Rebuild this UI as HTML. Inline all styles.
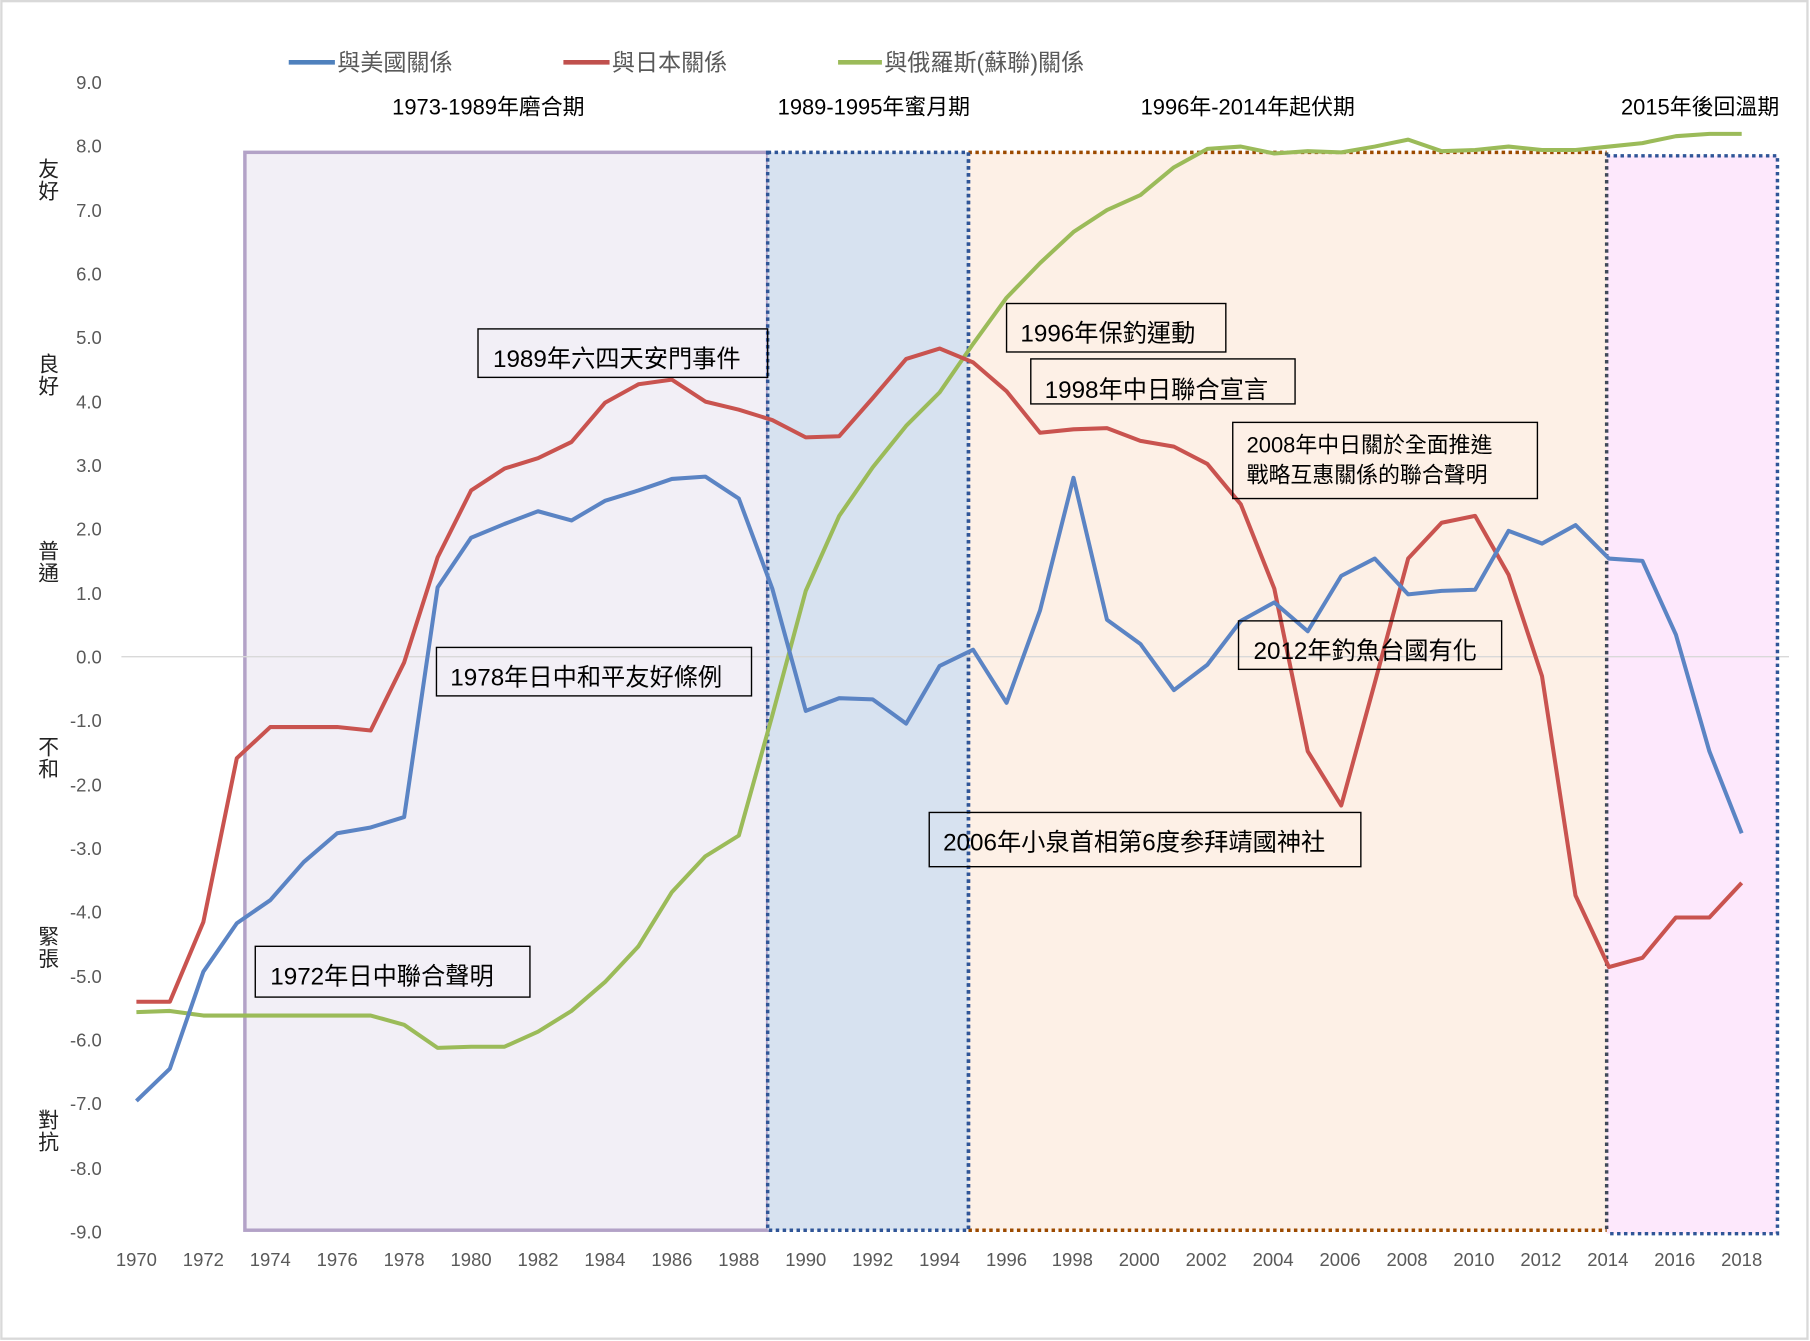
<!DOCTYPE html>
<html><head><meta charset="utf-8"><style>
html,body{margin:0;padding:0;background:#fff}
svg{display:block}
text{font-family:"Liberation Sans","Noto Sans CJK TC",sans-serif}
</style></head><body>
<svg width="1810" height="1341" viewBox="0 0 1568 1162" xmlns="http://www.w3.org/2000/svg">
<rect x="1" y="1" width="1565" height="1159" fill="#fff" stroke="#d9d9d9" stroke-width="2"/>
<!-- regions -->
<rect x="212" y="132" width="453" height="934" fill="#f2eff6" stroke="#b3a2c7" stroke-width="3"/>
<rect x="665" y="132" width="174" height="934" fill="#d7e2f0"/>
<rect x="839" y="132" width="553" height="934" fill="#fdf0e6"/>
<rect x="1392" y="135" width="148" height="934" fill="#fde8fc"/>
<line x1="105" y1="569" x2="1550" y2="569" stroke="#d9d9d9" stroke-width="1.2"/>
<g fill="none" stroke-width="3" stroke-dasharray="3,3">
<rect x="665" y="132" width="174" height="934" stroke="#2f5597"/>
<line x1="839" y1="132" x2="1392" y2="132" stroke="#9c4a00"/>
<line x1="839" y1="1066" x2="1392" y2="1066" stroke="#9c4a00"/>
<line x1="839" y1="132" x2="839" y2="1066" stroke="#2f5597"/>
<line x1="1392" y1="132" x2="1392" y2="1066" stroke="#404a5a"/>
<path d="M1392 135 H1540 V1069 H1392" stroke="#2f5597"/>
</g>
<!-- y labels -->
<g font-size="16" fill="#595959" text-anchor="end">
<text x="88" y="77">9.0</text><text x="88" y="132">8.0</text><text x="88" y="188">7.0</text>
<text x="88" y="243">6.0</text><text x="88" y="298">5.0</text><text x="88" y="354">4.0</text>
<text x="88" y="409">3.0</text><text x="88" y="464">2.0</text><text x="88" y="520">1.0</text>
<text x="88" y="575">0.0</text><text x="88" y="630">-1.0</text><text x="88" y="686">-2.0</text>
<text x="88" y="741">-3.0</text><text x="88" y="796">-4.0</text><text x="88" y="852">-5.0</text>
<text x="88" y="907">-6.0</text><text x="88" y="962">-7.0</text><text x="88" y="1018">-8.0</text>
<text x="88" y="1073">-9.0</text>
</g>
<g font-size="18" fill="#222" text-anchor="middle">
<text x="42" y="153">友</text><text x="42" y="172">好</text>
<text x="42" y="322">良</text><text x="42" y="341">好</text>
<text x="42" y="484">普</text><text x="42" y="503">通</text>
<text x="42" y="654">不</text><text x="42" y="673">和</text>
<text x="42" y="818">緊</text><text x="42" y="837">張</text>
<text x="42" y="977">對</text><text x="42" y="996">抗</text>
</g>
<!-- x labels -->
<g font-size="16" fill="#595959" text-anchor="middle">
<text x="118" y="1097">1970</text><text x="176" y="1097">1972</text><text x="234" y="1097">1974</text>
<text x="292" y="1097">1976</text><text x="350" y="1097">1978</text><text x="408" y="1097">1980</text>
<text x="466" y="1097">1982</text><text x="524" y="1097">1984</text><text x="582" y="1097">1986</text>
<text x="640" y="1097">1988</text><text x="698" y="1097">1990</text><text x="756" y="1097">1992</text>
<text x="814" y="1097">1994</text><text x="872" y="1097">1996</text><text x="929" y="1097">1998</text>
<text x="987" y="1097">2000</text><text x="1045" y="1097">2002</text><text x="1103" y="1097">2004</text>
<text x="1161" y="1097">2006</text><text x="1219" y="1097">2008</text><text x="1277" y="1097">2010</text>
<text x="1335" y="1097">2012</text><text x="1393" y="1097">2014</text><text x="1451" y="1097">2016</text>
<text x="1509" y="1097">2018</text>
</g>
<!-- series -->
<g fill="none" stroke-width="3.5" stroke-linejoin="round">
<polyline stroke="#9bbb59" points="118,877 147,876 176,880 205,880 234,880 263,880 292,880 321,880 350,888 379,908 408,907 437,907 466,894 495,876 524,851 553,820 582,773 611,742 640,724 669,620 698,512 727,447 756,405 785,369 814,340 843,298 872,258 901,228 930,201 959,182 988,169 1017,145 1046,129 1075,127 1104,133 1133,131 1162,132 1191,127 1220,121 1249,131 1278,130 1307,127 1336,130 1365,130 1394,127 1423,124 1452,118 1481,116 1509,116"/>
<polyline stroke="#c9534f" points="118,868 147,868 176,799 205,657 234,630 263,630 292,630 321,633 350,574 379,483 408,425 437,406 466,397 495,383 524,349 553,333 582,329 611,348 640,355 669,364 698,379 727,378 756,345 785,311 814,302 843,314 872,339 901,375 930,372 959,371 988,382 1017,387 1046,402 1075,437 1104,510 1133,651 1162,698 1191,592 1220,484 1249,453 1278,447 1307,498 1336,586 1365,776 1394,838 1423,830 1452,795 1481,795 1509,765"/>
<polyline stroke="#5b84c4" points="118,954 147,926 176,842 205,800 234,780 263,747 292,722 321,717 350,708 379,509 408,466 437,454 466,443 495,451 524,434 553,425 582,415 611,413 640,432 669,510 698,616 727,605 756,606 785,627 814,577 843,563 872,609 901,529 930,414 959,537 988,558 1017,598 1046,576 1075,538 1104,522 1133,547 1162,499 1191,484 1220,515 1249,512 1278,511 1307,460 1336,471 1365,455 1394,484 1423,486 1452,550 1481,651 1509,722"/>
</g>
<!-- legend -->
<g stroke-width="4"><line x1="250" y1="54" x2="290" y2="54" stroke="#4f81bd"/><line x1="488" y1="54" x2="528" y2="54" stroke="#c0504d"/><line x1="726" y1="54" x2="764" y2="54" stroke="#9bbb59"/></g>
<g font-size="20" fill="#595959"><text x="292" y="61">與美國關係</text><text x="530" y="61">與日本關係</text><text x="766" y="61">與俄羅斯(蘇聯)關係</text></g>
<!-- period titles -->
<g font-size="19" fill="#000" text-anchor="middle">
<text x="423" y="99">1973-1989年磨合期</text><text x="757" y="99">1989-1995年蜜月期</text>
<text x="1081" y="99">1996年-2014年起伏期</text><text x="1473" y="99">2015年後回溫期</text>
</g>
<!-- annotations -->
<g fill="none" stroke="#000" stroke-width="1.2">
<rect x="414" y="285" width="251" height="42"/><rect x="378" y="561" width="273" height="42"/>
<rect x="221" y="820" width="238" height="44"/><rect x="872" y="263" width="190" height="42"/>
<rect x="893" y="311" width="229" height="39"/><rect x="1068" y="366" width="264" height="66"/>
<rect x="1073" y="538" width="228" height="42"/><rect x="805" y="704" width="374" height="47"/>
</g>
<g font-size="21" fill="#000">
<text x="427" y="318">1989年六四天安門事件</text>
<text x="390" y="594">1978年日中和平友好條例</text>
<text x="234" y="853">1972年日中聯合聲明</text>
<text x="884" y="296">1996年保釣運動</text>
<text x="905" y="345">1998年中日聯合宣言</text>
<text x="1086" y="571">2012年釣魚台國有化</text>
<text x="817" y="737">2006年小泉首相第6度参拜靖國神社</text>
</g>
<g font-size="19" fill="#000"><text x="1080" y="392">2008年中日關於全面推進</text><text x="1080" y="418">戰略互惠關係的聯合聲明</text></g>
</svg>
</body></html>
